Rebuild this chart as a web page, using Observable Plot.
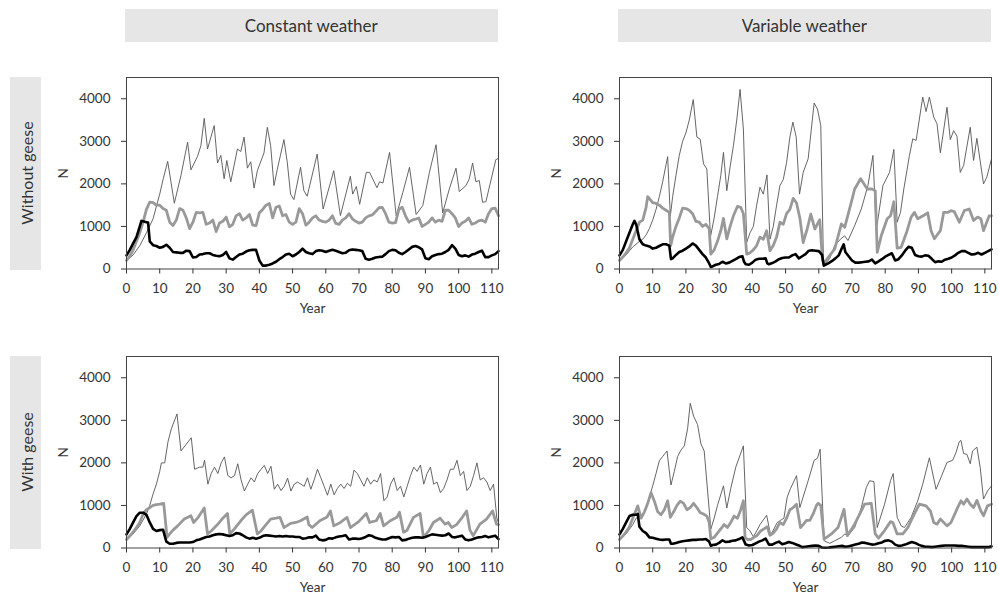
<!DOCTYPE html>
<html><head><meta charset="utf-8">
<script src="https://cdn.jsdelivr.net/npm/d3@7"></script>
<script src="https://cdn.jsdelivr.net/npm/@observablehq/plot@0.6"></script>
<style>
body{margin:0;background:#fff;font-family:Lato,"Open Sans",sans-serif;}
#root{position:relative;width:998px;height:596px;overflow:hidden;background:#fff;}
.hdr{position:absolute;background:#e6e6e6;color:#333;font-size:17px;display:flex;align-items:center;justify-content:center;}
.rowlab{position:absolute;background:#e6e6e6;}
.rowlab span{position:absolute;left:50%;top:50%;transform:translate(-50%,-50%) rotate(-90deg);white-space:nowrap;font-size:16px;color:#333;}
.panel{position:absolute;}
</style></head>
<body><div id="root"></div>
<script>
// ---- labels ----
const colLabels = ["Constant weather", "Variable weather"];
const rowLabels = ["Without geese", "With geese"];
const xTicks = [0,10,20,30,40,50,60,70,80,90,100,110];
const yTicks = [0,1000,2000,3000,4000];

// ---- data: [year, N] ----
// Constant weather, without geese
const constNoGeeseThin = [[0,200],[2,330],[4,550],[6,850],[8,1180],[10,1760],[11,2100],[12.4,2530],[14.4,1545],[16.4,2200],[18.4,2980],[19.4,2330],[21.4,2650],[22.4,2900],[23.4,3540],[24.4,2820],[26.4,3370],[27.4,2490],[28.4,2670],[29.4,2120],[30.2,2550],[31.4,2050],[33.4,2820],[34.4,2760],[35.4,3100],[36.4,2370],[37.4,2520],[38.4,1900],[39.4,2310],[41.4,2730],[42.4,3330],[43.4,2900],[44.4,1960],[45.4,2340],[47.4,3040],[48.4,2510],[49.4,1760],[50.4,1630],[52.4,2390],[53.4,1840],[54.4,1710],[57.4,2700],[59.2,1410],[62.4,2310],[64.4,1255],[67.4,2180],[68.1,1760],[69.2,1940],[70.2,1520],[72.2,2270],[73.2,2270],[75.4,1910],[76.2,2050],[77.2,2020],[79.2,2740],[81.2,1250],[83.2,1800],[85.2,2390],[87.2,1280],[89.2,1490],[91.2,2270],[93.2,2920],[95.2,1320],[97.2,1880],[99.2,2370],[100.2,1820],[102.2,1960],[103.2,2120],[104.2,2490],[105.2,2050],[106.2,2080],[107.2,1570],[108.2,1580],[111.2,2570],[112,2600]];
const constNoGeeseGray = [[0,200],[1,300],[2,450],[3,650],[4,850],[5,1100],[6,1400],[7,1570],[8,1560],[9,1500],[10,1500],[11,1420],[12,1380],[13,1100],[14,1020],[15,1150],[16,1420],[17,1380],[18,1200],[19,950],[20,1100],[21,1330],[22,1320],[23,1330],[24,1050],[25,1080],[26,1150],[27,880],[28,1080],[29,1120],[30,1220],[31,990],[32,1050],[33,1250],[34,1300],[35,1150],[36,1200],[37,1280],[38,1030],[39,1020],[40,1320],[41,1400],[42,1500],[43,1540],[44,1200],[45,1450],[46,1480],[47,1250],[48,1280],[49,1100],[50,1050],[51,1100],[52,1420],[53,1300],[54,1030],[55,1100],[56,1200],[57,1250],[58,1150],[59,1120],[60,1100],[61,1150],[62,1250],[63,1070],[64,1050],[65,1150],[66,1200],[67,1300],[68,1180],[69,1120],[70,1080],[71,1100],[72,1200],[73,1250],[74,1270],[75,1350],[76,1440],[77,1450],[78,1300],[79,1100],[80,1080],[81,1090],[82,1400],[83,1450],[84,1250],[85,1100],[86,1150],[87,1170],[88,1200],[89,1000],[90,1050],[91,1100],[92,1200],[93,1100],[94,1150],[95,1120],[96,1380],[97,1380],[98,1300],[99,1200],[100,1000],[101,1080],[102,1120],[103,1200],[104,1050],[105,1080],[106,1130],[107,1150],[108,1100],[109,1300],[110,1420],[111,1430],[112,1250]];
const constNoGeeseBlack = [[0,320],[1,450],[2,600],[3,750],[4,1000],[4.5,1130],[5,1120],[6,1100],[6.5,1090],[7,650],[8,560],[9,540],[10,500],[11,520],[12,570],[13,500],[14,400],[15,390],[16,380],[17,380],[18,430],[19,420],[20,270],[21,280],[22,340],[23,350],[24,370],[25,370],[26,330],[27,310],[28,300],[29,330],[30,400],[31,250],[32,220],[33,280],[34,340],[35,360],[36,410],[37,440],[38,450],[39,450],[40,200],[41,80],[42,80],[43,100],[44,130],[45,170],[46,230],[47,280],[48,340],[49,360],[50,300],[51,340],[52,400],[53,480],[54,400],[55,370],[56,350],[57,420],[58,440],[59,430],[60,400],[61,430],[62,450],[63,430],[64,400],[65,370],[66,380],[67,440],[68,460],[69,450],[70,440],[71,420],[72,240],[73,220],[74,240],[75,270],[76,280],[77,290],[78,350],[79,420],[80,450],[81,440],[82,380],[83,350],[84,400],[85,460],[86,520],[87,540],[88,510],[89,460],[90,250],[91,230],[92,300],[93,330],[94,350],[95,360],[96,400],[97,450],[98,560],[99,480],[100,330],[101,300],[102,320],[103,290],[104,340],[105,360],[106,400],[107,430],[108,280],[109,280],[110,320],[111,350],[112,420]];

// Variable weather, without geese
const varNoGeeseThin = [[0,200],[2,330],[4,520],[6,650],[7,700],[8,800],[9,950],[10,1150],[11,1400],[12,1700],[13,2050],[14,2450],[14.5,2640],[15.3,1240],[16,1700],[17,2200],[18,2670],[19,3000],[20,3200],[21,3500],[22.2,3980],[23.3,3100],[24.3,3050],[25.3,2470],[26.3,2350],[27.4,760],[28.5,1200],[29.5,1700],[30.5,2200],[31.3,2740],[32.3,1840],[33.3,2400],[34.3,2900],[35.3,3500],[36.3,4220],[37.3,3290],[38.3,630],[39.3,850],[40.3,1000],[41.3,1500],[42.3,1920],[43.3,1760],[44.4,2210],[45.3,700],[46.3,1000],[47.3,1500],[48.3,1960],[49.3,2100],[50.3,2500],[51.3,3100],[52.2,3450],[53.2,3100],[54.2,1760],[55.3,2270],[56.8,2590],[58.6,3900],[59.6,3760],[60.6,3370],[61.4,200],[62.3,150],[63.3,250],[64.8,550],[66.5,700],[67.8,780],[68.8,670],[70.8,1020],[72.8,1410],[74.8,1960],[76.3,2670],[77.3,900],[79.3,1960],[81.3,2270],[82.6,2810],[83.6,1100],[84.6,1330],[85.6,1880],[87.3,2670],[88.3,3060],[89.3,3020],[91.3,4040],[92.3,3700],[93.3,4040],[94.6,3570],[95.6,3410],[96.6,2730],[98.6,3800],[99.6,3040],[100.6,3250],[101.6,3120],[102.6,2270],[103.6,2430],[105.6,3330],[106.6,2550],[107.6,3070],[109.6,2000],[110.6,2160],[112,2590]];
const varNoGeeseGray = [[0,200],[1,280],[2,380],[3,500],[4,700],[5,900],[6,1100],[7,1150],[8,1450],[8.5,1700],[10,1560],[11,1540],[12,1500],[13,1430],[14,1380],[15,1330],[15.4,550],[16,750],[17,1000],[18,1200],[19,1430],[20,1420],[21,1380],[22,1300],[23,1120],[24,1100],[25,1000],[26,1050],[27,950],[27.5,350],[28.5,450],[29.5,650],[30.5,900],[31.3,1190],[32.3,710],[33.3,1000],[34.3,1250],[35.5,1470],[36.5,1450],[37.3,1300],[38.3,350],[39.3,380],[40.3,450],[41.3,550],[42.3,750],[43.3,700],[44.3,900],[45.3,430],[46.3,550],[47.3,750],[48.3,1100],[49.3,1050],[50.3,1300],[51.3,1400],[52.3,1660],[53.3,1550],[54.3,1200],[55.3,620],[56.5,940],[57.6,1290],[58.8,940],[60.3,1160],[61.1,200],[61.8,150],[62.8,270],[64.8,470],[66.8,1060],[67.8,980],[69.8,1570],[70.8,1880],[72.6,2120],[74.6,1880],[76,1880],[77,1840],[77.6,390],[78.8,780],[80.6,1180],[81.6,1250],[82.6,1580],[83.6,490],[84.8,510],[86.6,900],[87.8,1220],[88.8,1330],[89.8,1180],[91.8,1270],[92.8,1320],[93.8,900],[94.8,710],[96.6,900],[97.6,1330],[98.8,1330],[99.8,1370],[100.8,1350],[102.3,1100],[103.8,1370],[105.3,1410],[106.6,1140],[107.8,1220],[108.8,1180],[109.6,900],[111.3,1250],[112,1250]];
const varNoGeeseBlack = [[0,320],[1,450],[2,650],[3,850],[4,1050],[4.5,1130],[5,1050],[6,700],[7,580],[8,550],[9,530],[10,480],[11,500],[12,540],[13,580],[14,580],[15,550],[15.5,230],[16,250],[17,330],[18,400],[19,430],[20,480],[21,530],[22,600],[23,550],[24,450],[25,350],[26,270],[27,130],[27.5,50],[28,60],[29,100],[30,120],[31,170],[32,130],[33,150],[34,190],[35,230],[36,280],[37,300],[37.5,170],[38,110],[39,100],[40,150],[41,220],[42,240],[43,240],[44,250],[44.5,130],[45,110],[46,140],[47,180],[48,230],[49,260],[50,270],[51,270],[52,320],[53,350],[54,250],[55,300],[56,350],[57,430],[58,440],[59,430],[60,420],[61,330],[61.5,80],[62,100],[63,140],[64,190],[65,250],[66,320],[67,500],[67.5,580],[68,400],[69,300],[70,200],[71,150],[72,150],[73,160],[74,170],[75,180],[76,220],[77,130],[78,180],[79,230],[80,290],[81,330],[82,370],[83,200],[84,230],[85,320],[86,430],[87,520],[88,500],[89,330],[90,300],[91,290],[92,320],[93,310],[94,240],[95,160],[96,180],[97,170],[98,220],[99,240],[100,270],[101,320],[102,380],[103,420],[104,420],[105,380],[106,340],[107,350],[108,380],[109,340],[110,380],[111,420],[112,460]];

// Constant weather, with geese
const constGeeseThin = [[0,200],[2,330],[4,520],[6,800],[7,1000],[8,1270],[9,1500],[10,1800],[10.5,2000],[11.5,2000],[12.5,2500],[13.5,2800],[15.2,3150],[16.4,2280],[18,2440],[19.5,2590],[20.5,1850],[22,1900],[23,1900],[23.5,2060],[24.5,1500],[25.5,1750],[26.5,1900],[27.5,1750],[28.5,2000],[29.5,2140],[30.5,1700],[31.5,1650],[32.5,1700],[33.5,1980],[34.5,1600],[35.5,1340],[36.5,1500],[37.5,1650],[38.5,1550],[39.5,1750],[40.5,1850],[41.5,1940],[42.5,1750],[43.5,1920],[44.5,1380],[45.5,1500],[46.5,1350],[47.5,1450],[48.5,1640],[49.5,1340],[50.5,1500],[51.5,1550],[52.5,1500],[53.5,1450],[54.5,1650],[55.5,1380],[56.5,1600],[57.5,1850],[58.5,1650],[59.5,1450],[60.5,1240],[61.5,1500],[62.5,1250],[63.5,1400],[64.5,1500],[65.5,1400],[66.5,1520],[67.5,1450],[68.5,1830],[69.5,1750],[70.5,1600],[71.5,1450],[72.5,1650],[73.5,1500],[74.5,1600],[75.5,1550],[76.5,1750],[77.5,1110],[78.5,1200],[79.5,1500],[80.5,1650],[81.5,1350],[82.5,1450],[83.5,1200],[84.5,1450],[85.5,1700],[86.5,1900],[87.5,1800],[88.5,1950],[89.5,1500],[90.5,1750],[91.5,1900],[92.5,1500],[93.5,1550],[94.5,1300],[95.5,1400],[96.5,1600],[97.5,1850],[98.5,1850],[99.5,2060],[100.5,1700],[101.5,1800],[102.5,1350],[103.5,1450],[104.5,1700],[105.5,2000],[106.5,1600],[107.5,1650],[108.5,1550],[109.5,1350],[110.5,1500],[111.5,700],[112,600]];
const constGeeseGray = [[0,200],[1,280],[2,380],[3,480],[4,600],[5,800],[6,900],[7,950],[8,1000],[9,1020],[10,1030],[11.2,1050],[12.2,250],[13,330],[14,420],[15.4,520],[17.4,680],[19.4,760],[20.2,600],[21.6,720],[23.4,940],[24.4,330],[25.5,400],[27.4,550],[29,700],[30.4,810],[31.1,330],[32.5,450],[34.4,640],[36,780],[37.9,890],[39.4,330],[40.5,400],[42,550],[43.4,680],[45,700],[46.2,720],[47.4,480],[49.4,580],[51,600],[52.4,640],[54.4,730],[54.9,550],[55.9,480],[58.2,640],[60.4,730],[61.4,870],[62.4,520],[64.4,600],[66.4,720],[67.4,480],[69.9,620],[72.2,810],[73.2,600],[75.2,640],[76.4,810],[77.4,520],[79.4,640],[81.4,720],[82.2,840],[83.4,370],[84.4,410],[86.4,720],[88.4,810],[89.4,250],[91,400],[92.4,600],[94.4,700],[95.9,560],[96.9,600],[97.9,480],[99.4,550],[100.9,700],[102.4,870],[103.4,420],[104.4,290],[106.4,560],[108.4,680],[110.2,870],[111.4,560],[112,550]];
const constGeeseBlack = [[0,320],[1,450],[2,600],[3,750],[4,830],[5,830],[6,780],[7,600],[8,450],[9,400],[10,420],[11,430],[12,150],[13,100],[14,100],[15,120],[16,130],[17,130],[18,130],[19,130],[20,140],[21,180],[22,200],[23,230],[24,260],[25,270],[26,300],[27,320],[28,330],[29,320],[30,300],[31,280],[32,300],[33,350],[34,340],[35,300],[36,250],[37,220],[38,240],[39,220],[40,240],[41,280],[42,300],[43,290],[44,280],[45,270],[46,280],[47,270],[48,280],[49,270],[50,270],[51,260],[52,260],[53,220],[54,230],[55,250],[56,250],[57,290],[58,200],[59,180],[60,190],[61,230],[62,220],[63,250],[64,270],[65,280],[66,300],[67,200],[68,220],[69,220],[70,210],[71,230],[72,260],[73,300],[74,280],[75,240],[76,220],[77,200],[78,200],[79,230],[80,260],[81,250],[82,260],[83,180],[84,190],[85,220],[86,240],[87,250],[88,250],[89,240],[90,260],[91,290],[92,320],[93,310],[94,300],[95,290],[96,300],[97,340],[98,260],[99,250],[100,270],[101,290],[102,200],[103,180],[104,200],[105,230],[106,250],[107,260],[108,280],[109,250],[110,270],[111,290],[112,210]];

// Variable weather, with geese
const varGeeseThin = [[0,200],[2,330],[4,550],[5,700],[7,800],[8,900],[9,1200],[10,1460],[11,1750],[12,2050],[13,2150],[14.3,2280],[15.5,1480],[16.5,1800],[17.5,2150],[18.5,2300],[19.5,2400],[20.5,2800],[21.3,3400],[22.3,3100],[23.5,2900],[24.5,2450],[25.5,2280],[27.5,445],[28.5,700],[29.5,1000],[31.3,1460],[32.3,940],[33.5,1400],[35,1900],[37.3,2400],[38.3,480],[39.3,400],[40.3,265],[41.3,400],[42.3,550],[44.3,770],[45.5,300],[46.5,450],[47.5,600],[48.5,650],[49.5,700],[50.5,1200],[51.5,1400],[53.3,1700],[54.3,950],[56.8,1580],[58.6,2060],[59.6,2110],[60.4,2320],[61.6,170],[63.3,110],[64.8,170],[66.8,250],[67.8,330],[68.8,290],[70.8,480],[72.8,950],[74.3,1420],[75.3,1580],[76.6,1560],[77.6,480],[79.8,1030],[81.6,1580],[82.4,1750],[83.6,720],[84.8,520],[85.8,480],[87.8,720],[89.8,1110],[91.3,1500],[93.3,2120],[95.3,1380],[96.8,1660],[98.6,2010],[100.3,2060],[101.3,2240],[102.3,2500],[102.8,2530],[103.6,2220],[104.6,2200],[105.6,1980],[106.3,2280],[107.6,2370],[108.6,1890],[109.6,1150],[110.8,1340],[112,1460]];
const varGeeseGray = [[0,200],[1,280],[2,380],[3,500],[4,700],[5.5,990],[6.5,700],[7.5,850],[8.5,1050],[9.5,1300],[10.5,1100],[11.5,850],[12.5,780],[13.5,900],[14.5,1110],[15.3,720],[16.3,850],[17.3,1000],[18.3,1100],[19.3,1050],[20.3,900],[21.3,950],[22.3,1050],[23.3,950],[24.3,830],[25.3,800],[26.3,750],[27,600],[27.5,210],[28.5,250],[29.5,350],[30.5,450],[31.5,550],[32.5,480],[33.5,600],[34.5,750],[35.5,700],[36.5,900],[37.3,1110],[37.8,250],[38.5,200],[39.5,200],[40.5,250],[41.5,300],[42.5,400],[43.5,450],[44.5,500],[45.3,300],[46.3,350],[47.3,450],[48.3,600],[49.3,550],[50.3,700],[51.3,900],[52.3,950],[53.3,1030],[54.5,480],[55.3,550],[56.3,650],[57.3,650],[58.3,800],[59.3,1000],[59.8,1050],[60.6,1000],[61.6,210],[63.8,330],[65.8,480],[67.6,910],[68.6,290],[70.8,560],[72.8,870],[73.8,1030],[75.8,1050],[77,330],[78,230],[79.8,410],[81.6,620],[82.3,600],[83.6,330],[85.3,330],[86.8,480],[88.8,810],[90.3,1030],[92.3,990],[93.6,870],[94.6,600],[95.6,560],[96.6,680],[98.6,520],[99.8,600],[101.8,950],[102.8,1110],[103.6,1030],[104.6,1150],[105.6,1030],[106.6,950],[107.6,1120],[108.8,870],[109.6,760],[110.8,990],[112,1030]];
const varGeeseBlack = [[0,320],[1,450],[2,600],[3,750],[4,780],[5,780],[5.5,800],[6,500],[7,400],[8,350],[9,250],[10,240],[11,220],[12,200],[13,190],[14,200],[15,200],[15.5,100],[16,100],[17,120],[18,140],[19,160],[20,170],[21,180],[22,190],[23,190],[24,200],[25,200],[26,210],[27,150],[27.5,50],[28,70],[29,80],[30,120],[31,180],[32,140],[33,150],[34,170],[35,180],[36,210],[37,250],[38,80],[39,60],[40,70],[41,110],[42,150],[43,180],[44,220],[45,80],[46,80],[47,120],[48,150],[49,90],[50,110],[51,140],[52,120],[53,90],[54,60],[55,20],[56,30],[57,40],[58,50],[59,60],[60,50],[61,10],[62,5],[63,10],[64,20],[65,30],[66,40],[67,50],[68,30],[69,40],[70,60],[71,80],[72,100],[73,130],[74,120],[75,100],[76,80],[77,90],[78,110],[79,130],[80,170],[81,180],[82,150],[83,80],[84,50],[85,60],[86,80],[87,110],[88,140],[89,120],[90,80],[91,50],[92,30],[93,30],[94,20],[95,30],[96,40],[97,50],[98,60],[99,60],[100,60],[101,60],[102,50],[103,50],[104,40],[105,30],[106,20],[107,20],[108,20],[109,20],[110,20],[111,20],[112,40]];

// ---- layout ----
const root = document.getElementById("root");
const colX = [125.5, 618.5];   // frame left per column
const rowY = [77, 356];        // frame top per row
const frameW = 372, frameH = 191.5;

colLabels.forEach((t, i) => {
  const d = document.createElement("div");
  d.className = "hdr";
  Object.assign(d.style, {left: (colX[i] - 0.5) + "px", top: "9px", width: (frameW + 0.5) + "px", height: "33px"});
  d.textContent = t;
  root.appendChild(d);
});
rowLabels.forEach((t, i) => {
  const d = document.createElement("div");
  d.className = "rowlab";
  Object.assign(d.style, {left: "10px", top: rowY[i] + "px", width: "31px", height: (frameH + 1) + "px"});
  const s = document.createElement("span");
  s.textContent = t;
  d.appendChild(s);
  root.appendChild(d);
});

const mL = 95, mR = 13, mT = 15, mB = 53.5;
function panel(thin, gray, black, col, row) {
  const chart = Plot.plot({
    width: mL + frameW + mR, height: mT + frameH + mB,
    marginLeft: mL, marginRight: mR, marginTop: mT, marginBottom: mB,
    style: {background: "transparent", fontFamily: "Lato, 'Open Sans', sans-serif", fontSize: "13.5px", color: "#333", overflow: "visible"},
    x: {domain: [0, 112], ticks: xTicks, tickFormat: d => String(d), tickSize: 5, tickPadding: 9, label: "Year", labelAnchor: "center", labelOffset: 44, labelArrow: "none"},
    y: {domain: [0, 4500], ticks: yTicks, tickFormat: d => String(d), tickSize: 5, tickPadding: 11, label: "N", labelAnchor: "center", labelOffset: 68, labelArrow: "none"},
    marks: [
      Plot.line(thin, {x: d => d[0], y: d => d[1], stroke: "#555", strokeWidth: 0.9}),
      Plot.line(gray, {x: d => d[0], y: d => d[1], stroke: "#999", strokeWidth: 2.8}),
      Plot.line(black, {x: d => d[0], y: d => d[1], stroke: "#000", strokeWidth: 2.6}),
      Plot.frame({stroke: "#444", strokeWidth: 1})
    ]
  });
  chart.classList.add("panel");
  chart.style.left = (colX[col] - mL) + "px";
  chart.style.top = (rowY[row] - mT) + "px";
  root.appendChild(chart);
}
panel(constNoGeeseThin, constNoGeeseGray, constNoGeeseBlack, 0, 0);
panel(varNoGeeseThin, varNoGeeseGray, varNoGeeseBlack, 1, 0);
panel(constGeeseThin, constGeeseGray, constGeeseBlack, 0, 1);
panel(varGeeseThin, varGeeseGray, varGeeseBlack, 1, 1);
</script></body></html>
